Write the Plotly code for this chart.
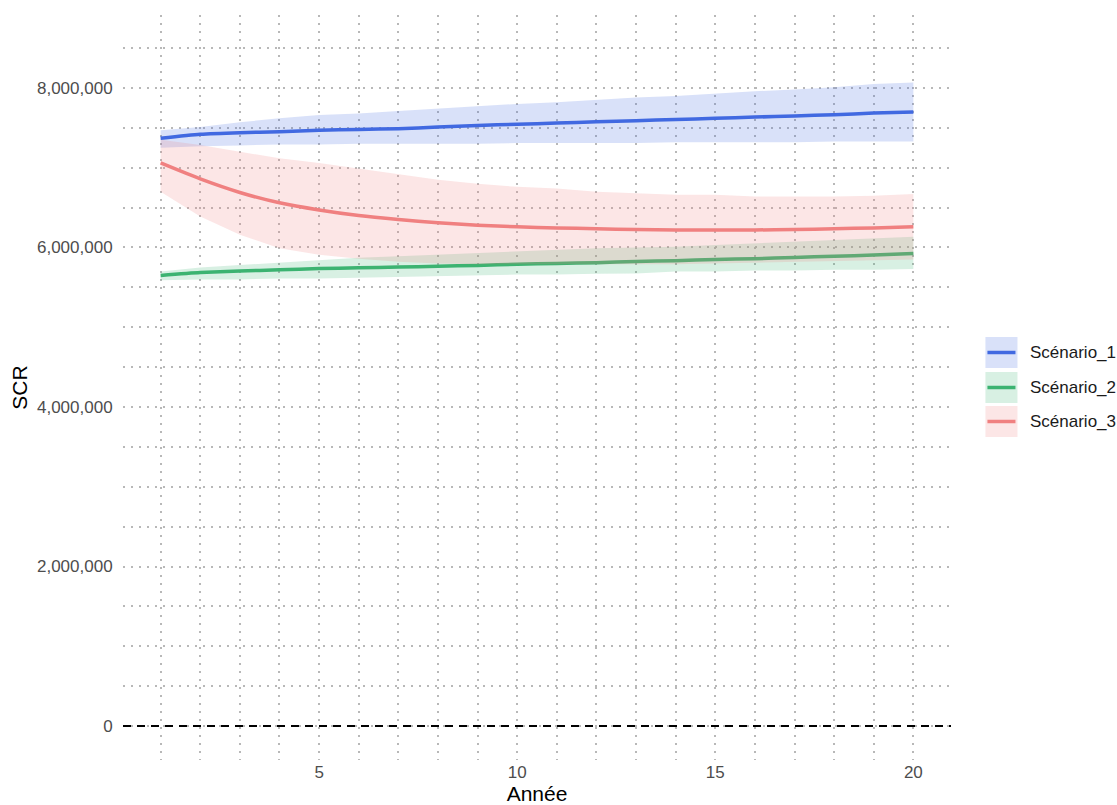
import plotly.graph_objects as go

annees = list(range(1, 21))

s1_moy = [7.37, 7.42, 7.44, 7.45, 7.47, 7.48, 7.49, 7.51, 7.53, 7.545,
          7.56, 7.575, 7.59, 7.605, 7.62, 7.635, 7.65, 7.665, 7.685, 7.70]
s1_haut = [7.47, 7.51, 7.57, 7.62, 7.66, 7.68, 7.71, 7.74, 7.77, 7.80,
           7.82, 7.85, 7.88, 7.90, 7.93, 7.96, 7.98, 8.01, 8.05, 8.07]
s1_bas = [7.25, 7.27, 7.28, 7.29, 7.29, 7.30, 7.30, 7.30, 7.30, 7.31,
          7.31, 7.31, 7.31, 7.32, 7.32, 7.32, 7.32, 7.33, 7.33, 7.33]

s2_moy = [5.65, 5.685, 5.705, 5.72, 5.735, 5.745, 5.755, 5.765, 5.775, 5.79,
          5.80, 5.81, 5.825, 5.835, 5.85, 5.86, 5.875, 5.89, 5.905, 5.925]
s2_haut = [5.70, 5.75, 5.78, 5.81, 5.84, 5.87, 5.89, 5.91, 5.93, 5.95,
           5.97, 5.99, 6.00, 6.01, 6.03, 6.05, 6.07, 6.09, 6.11, 6.135]
s2_bas = [5.59, 5.60, 5.60, 5.61, 5.61, 5.62, 5.63, 5.64, 5.65, 5.66,
          5.66, 5.67, 5.675, 5.70, 5.70, 5.71, 5.71, 5.72, 5.72, 5.73]

s3_moy = [7.06, 6.86, 6.69, 6.56, 6.47, 6.40, 6.35, 6.31, 6.28, 6.26,
          6.245, 6.235, 6.225, 6.22, 6.22, 6.22, 6.225, 6.235, 6.245, 6.26]
s3_haut = [7.35, 7.285, 7.20, 7.12, 7.06, 6.99, 6.92, 6.85, 6.80, 6.76,
           6.74, 6.70, 6.68, 6.66, 6.66, 6.64, 6.64, 6.64, 6.65, 6.67]
s3_bas = [6.70, 6.39, 6.16, 5.99, 5.91, 5.86, 5.82, 5.80, 5.79, 5.79,
          5.79, 5.79, 5.79, 5.79, 5.80, 5.81, 5.82, 5.83, 5.84, 5.85]

scenarios = ["Scénario_1", "Scénario_2", "Scénario_3"]
couleurs = ["#4169E1", "#3CB371", "#F08080"]
remplis = ["rgba(65,105,225,0.2)", "rgba(60,179,113,0.2)", "rgba(240,128,128,0.2)"]
legende_fond = ["#D9E1F9", "#D8F0E3", "#FCE6E6"]

y_ticks = [0, 2000000, 4000000, 6000000, 8000000]
x_ticks = [5, 10, 15, 20]

MILLION = 1e6
moyennes = [s1_moy, s2_moy, s3_moy]
hauts = [s1_haut, s2_haut, s3_haut]
bas = [s1_bas, s2_bas, s3_bas]

fig = go.Figure()

# lines first (ribbons drawn over them, as in the reference)
for nom, col, m in zip(scenarios, couleurs, moyennes):
    fig.add_trace(go.Scatter(x=annees, y=[v * MILLION for v in m], mode="lines",
                             line=dict(color=col, width=3.5, shape="spline", smoothing=0.6),
                             name=nom, showlegend=False, hoverinfo="skip"))

for nom, fc, h, b in zip(scenarios, remplis, hauts, bas):
    fig.add_trace(go.Scatter(x=annees + annees[::-1],
                             y=[v * MILLION for v in h] + [v * MILLION for v in b[::-1]],
                             mode="lines", fill="toself", fillcolor=fc,
                             line=dict(width=0, color="rgba(0,0,0,0)"),
                             name=nom, showlegend=False, hoverinfo="skip"))

fig.add_hline(y=0, line=dict(color="black", width=2, dash="8px,6px"))

grid_col = "#B8B8B8"
grid_dash = "2px,6px"
police = "Liberation Sans, Arial"

fig.update_xaxes(range=[0.05, 20.95], tickvals=x_ticks, showline=False, zeroline=False,
                 showgrid=True, gridcolor=grid_col, griddash=grid_dash, gridwidth=1.5,
                 minor=dict(dtick=1, tick0=0, showgrid=True, gridcolor=grid_col,
                            griddash=grid_dash, gridwidth=1.5),
                 ticks="", ticklen=0,
                 tickfont=dict(family=police, size=17, color="#4D4D4D"),
                 title=dict(text="Année", standoff=8,
                            font=dict(family=police, size=21, color="black")))
fig.update_yaxes(range=[-426000, 8915000], tickvals=y_ticks, tickformat=",",
                 showline=False, zeroline=False,
                 showgrid=True, gridcolor=grid_col, griddash=grid_dash, gridwidth=1.5,
                 minor=dict(dtick=500000, tick0=0, showgrid=True, gridcolor=grid_col,
                            griddash=grid_dash, gridwidth=1.5),
                 ticks="outside", ticklen=6, tickcolor="rgba(0,0,0,0)",
                 tickfont=dict(family=police, size=17, color="#4D4D4D"),
                 title=dict(text="SCR", standoff=3,
                            font=dict(family=police, size=21, color="black")))

# plot area in page pixels
L, R, T, B = 123.4, 950.6, 15, 760


def px_x(p):
    return (p - L) / (R - L)


def px_y(p):
    return (B - p) / (B - T)


# manual legend (ggplot style keys)
boites = [(337, 368), (372, 403), (406, 437)]
for nom, col, fond, (y0, y1) in zip(scenarios, couleurs, legende_fond, boites):
    fig.add_shape(type="rect", xref="paper", yref="paper",
                  x0=px_x(985), x1=px_x(1017), y0=px_y(y1), y1=px_y(y0),
                  fillcolor=fond, line=dict(width=0), layer="above")
    yc = (y0 + y1) / 2
    fig.add_shape(type="line", xref="paper", yref="paper",
                  x0=px_x(987), x1=px_x(1015), y0=px_y(yc), y1=px_y(yc),
                  line=dict(color=col, width=3.5), layer="above")
    fig.add_annotation(text=nom, xref="paper", yref="paper", x=px_x(1028), y=px_y(yc),
                       xanchor="left", yanchor="middle", showarrow=False,
                       font=dict(family=police, size=17, color="#1A1A1A"))

fig.update_layout(width=1117, height=805,
                  plot_bgcolor="white", paper_bgcolor="white",
                  margin=dict(l=L, r=1117 - R, t=T, b=805 - B, autoexpand=False),
                  showlegend=False, hovermode=False)

fig.write_html("out.html",
               config={"displayModeBar": False},
               post_script="document.body.style.margin='0';"
                           "document.body.style.overflow='hidden';"
                           "document.documentElement.style.overflow='hidden';")
